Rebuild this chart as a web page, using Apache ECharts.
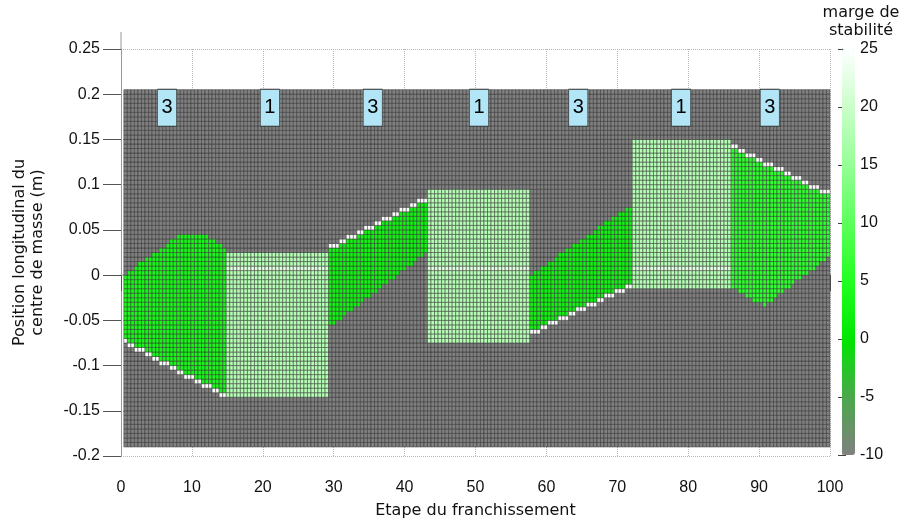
<!DOCTYPE html>
<html>
<head>
<meta charset="utf-8">
<script src="https://cdn.jsdelivr.net/npm/echarts@6/dist/echarts.min.js"></script>
<style>
  html, body { margin: 0; padding: 0; background: #fff; }
  #chart { width: 903px; height: 525px; }
</style>
</head>
<body>
<div id="chart"></div>
<script>
// phase labels drawn in the light blue boxes
const phaseLabels = ['3', '1', '3', '1', '3', '1', '3'];
const phaseLabelX = [6.5, 21, 35.5, 50.5, 64.5, 79, 91.5];
const phaseLabelY = 0.185;

// raster of the stability map (column / row layout of the cells)
const colStart = 0.4, colStep = 0.498, colCount = 200;
const rowStart = -0.19, rowStep = 0.005, rowCount = 79;

const outsideValue = -10;   // grey cells
const edgeValue = 25;       // white cells along the sloped border

// each phase : x range, top and bottom outlines (x, y)
const phaseX = [[0.4, 14.7], [14.7, 29.05], [29.05, 43.17], [43.17, 57.8], [57.8, 72.0], [72.0, 86.2], [86.2, 100.2]];
const phaseTop = [
  [[0.4, 0.0], [8.6, 0.046], [11.4, 0.046], [14.7, 0.03]],
  [[14.7, 0.025], [29.05, 0.025]],
  [[29.05, 0.026], [43.17, 0.083]],
  [[43.17, 0.095], [57.8, 0.095]],
  [[57.8, 0.0], [72.0, 0.078]],
  [[72.0, 0.15], [86.2, 0.15]],
  [[86.2, 0.14], [100.2, 0.086]]
];
const phaseBottom = [
  [[0.4, -0.071], [14.7, -0.131]],
  [[14.7, -0.135], [29.05, -0.135]],
  [[29.05, -0.06], [43.17, 0.025]],
  [[43.17, -0.075], [57.8, -0.075]],
  [[57.8, -0.062], [72.0, -0.0086]],
  [[72.0, -0.015], [86.2, -0.015]],
  [[86.2, -0.015], [90.8, -0.034], [100.2, 0.022]]
];
const phaseValue = [3.5, 18, 2.5, 18, 2.5, 18, 6];
const phaseEdge = ['below', null, 'above', null, 'below', null, 'above'];

// slightly lighter row inside the support phases
const lightPhases = [1, 3, 5];
const lightLow = 0.005, lightHigh = 0.01, lightValue = 22;

function outline(pts, x) {
  for (let i = 0; i < pts.length - 1; i++) {
    const a = pts[i], b = pts[i + 1];
    if (x >= a[0] && x <= b[0]) return a[1] + (b[1] - a[1]) * (x - a[0]) / (b[0] - a[0]);
  }
  return x < pts[0][0] ? pts[0][1] : pts[pts.length - 1][1];
}

const cells = [];
for (let c = 0; c < colCount; c++) {
  const x = colStart + c * colStep;
  const xc = x + colStep / 2;
  const p = phaseX.findIndex(r => xc >= r[0] && xc < r[1]);
  const col = [];
  let lo = -1, hi = -1;
  for (let r = 0; r < rowCount; r++) {
    const y = rowStart + r * rowStep;
    const yc = y + rowStep / 2;
    let v = outsideValue;
    if (p >= 0 && yc >= outline(phaseBottom[p], xc) && yc <= outline(phaseTop[p], xc)) {
      v = phaseValue[p];
      if (lightPhases.includes(p) && yc > lightLow && yc < lightHigh) v = lightValue;
      if (lo < 0) lo = r;
      hi = r;
    }
    col.push([x, y, v]);
  }
  if (p >= 0 && phaseEdge[p] === 'below' && lo > 0) col[lo - 1][2] = edgeValue;
  if (p >= 0 && phaseEdge[p] === 'above' && hi >= 0 && hi < rowCount - 1) col[hi + 1][2] = edgeValue;
  cells.push(...col);
}

const labelFont = 'Liberation Sans';
const nameFont = 'DejaVu Sans';

const chart = echarts.init(document.getElementById('chart'));
chart.setOption({
  animation: false,
  grid: [
    { left: 121, right: 73, top: 49, bottom: 69 },
    { left: 842, top: 49, width: 13, height: 406 }
  ],
  xAxis: [{
    type: 'value', gridIndex: 0, min: 0, max: 100, interval: 10,
    name: 'Etape du franchissement', nameLocation: 'middle', nameGap: 47,
    nameTextStyle: { fontFamily: nameFont, fontSize: 16, color: '#111' },
    axisLine: { show: true, lineStyle: { color: '#b0b0b0', width: 1.5 } },
    axisTick: { show: true, length: 16, lineStyle: { color: '#555' } },
    axisLabel: { margin: 24, fontSize: 16, fontFamily: labelFont, color: '#111' },
    splitLine: { show: true, lineStyle: { type: 'dotted', color: '#b8b8b8' } }
  }, {
    type: 'value', gridIndex: 1, min: 0, max: 1, show: false
  }],
  yAxis: [{
    type: 'value', gridIndex: 0, min: -0.2, max: 0.25, interval: 0.05,
    name: 'Position longitudinal du\ncentre de masse (m)', nameLocation: 'middle', nameGap: 74,
    nameTextStyle: { fontFamily: nameFont, fontSize: 16, color: '#111', lineHeight: 18 },
    axisLine: { show: true, lineStyle: { color: '#999' } },
    axisTick: { show: true, length: 18, lineStyle: { color: '#555' } },
    axisLabel: { margin: 21, fontSize: 16, fontFamily: labelFont, color: '#111' },
    splitLine: { show: true, lineStyle: { type: 'dotted', color: '#b8b8b8' } }
  }, {
    type: 'value', gridIndex: 1, position: 'right', min: -10, max: 25, interval: 5,
    axisLine: { show: true, lineStyle: { color: '#aaa' } },
    axisTick: { show: true, inside: true, length: 4, lineStyle: { color: '#444' } },
    axisLabel: { margin: 5, fontSize: 16, fontFamily: labelFont, color: '#111' },
    splitLine: { show: false }
  }, {
    type: 'value', gridIndex: 1, position: 'left', min: -10, max: 25, interval: 5,
    axisLine: { show: false },
    axisTick: { show: true, inside: true, length: 4, lineStyle: { color: '#444' } },
    axisLabel: { show: false },
    splitLine: { show: false }
  }],
  visualMap: {
    type: 'continuous', seriesIndex: 0, dimension: 2,
    min: -10, max: 25, calculable: false,
    left: 842, top: 49, itemWidth: 13, itemHeight: 406, padding: 0,
    inRange: { color: ['#808080', '#4aa84a', '#00e600', '#22ff22', '#5cff5c', '#95ff95', '#caffca', '#ffffff'] }
  },
  series: [{
    type: 'custom',
    xAxisIndex: 0, yAxisIndex: 0,
    silent: true,
    encode: { x: 0, y: 1 },
    data: cells,
    renderItem: function (params, api) {
      const x = api.value(0), y = api.value(1);
      const a = api.coord([x, y + rowStep]);
      const b = api.coord([x + colStep, y]);
      return {
        type: 'rect',
        shape: { x: a[0], y: a[1], width: b[0] - a[0], height: b[1] - a[1] },
        style: { fill: api.visual('color'), stroke: '#303030', lineWidth: 0.5 }
      };
    }
  }, {
    type: 'scatter',
    xAxisIndex: 0, yAxisIndex: 0,
    silent: true, z: 5,
    symbol: 'rect', symbolSize: [19, 37],
    itemStyle: { color: '#b2e6f6', borderColor: '#333', borderWidth: 0.8, opacity: 1 },
    label: { show: true, position: 'inside', formatter: p => p.name, fontSize: 20, fontFamily: labelFont, color: '#000' },
    data: phaseLabels.map((t, i) => ({ name: t, value: [phaseLabelX[i], phaseLabelY] }))
  }]
});

// colour bar title, and the y axis line running a little above the frame
const topPt = chart.convertToPixel({ gridIndex: 0 }, [0, 0.25]);
chart.setOption({
  graphic: [{
    type: 'text', x: 861, y: 4,
    style: { text: 'marge de\nstabilité', font: '16px "DejaVu Sans"', fill: '#111', align: 'center', lineHeight: 18 }
  }, {
    type: 'line', shape: { x1: topPt[0], y1: topPt[1] - 17, x2: topPt[0], y2: topPt[1] },
    style: { stroke: '#999', lineWidth: 1 }
  }]
});
</script>
</body>
</html>
